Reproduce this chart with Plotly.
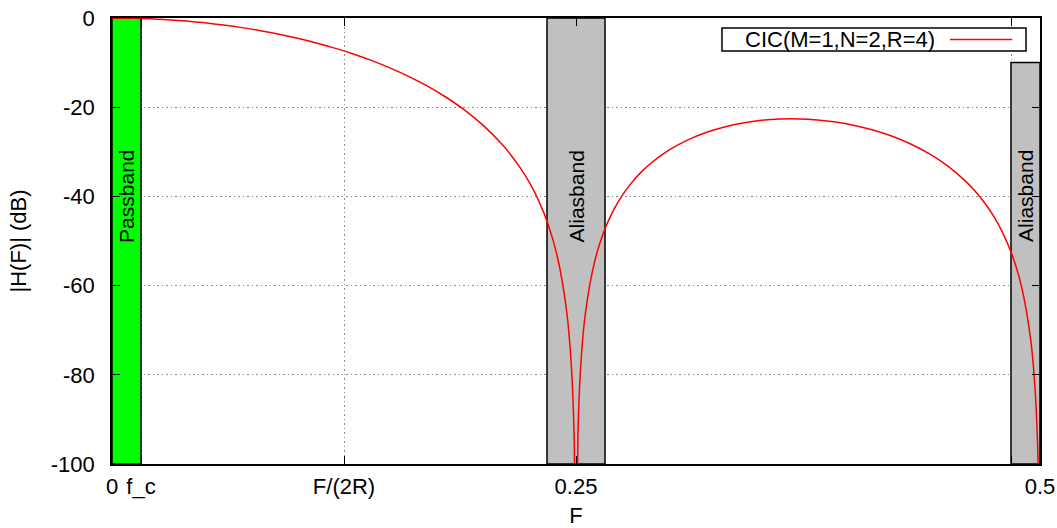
import plotly.graph_objects as go

# ---------------- data ----------------
f_c = 1 / 64

freq = [0.0, 0.01, 0.02, 0.03, 0.04, 0.05, 0.06, 0.07, 0.08, 0.09, 0.10,
        0.11, 0.12, 0.13, 0.14, 0.15, 0.16, 0.17, 0.18, 0.19, 0.20,
        0.21, 0.215, 0.22, 0.225, 0.23, 0.235, 0.24, 0.245, 0.2475, 0.249,
        0.25, 0.251, 0.2525, 0.255, 0.26, 0.265, 0.27, 0.275, 0.28, 0.285,
        0.29, 0.30, 0.31, 0.32, 0.33, 0.34, 0.35, 0.36, 0.37, 0.38, 0.39,
        0.40, 0.41, 0.42, 0.43, 0.44, 0.45, 0.46, 0.465, 0.47, 0.475,
        0.48, 0.485, 0.49, 0.495, 0.4975, 0.499, 0.5]

h_db = [0.0, -0.04, -0.17, -0.39, -0.69, -1.09, -1.58, -2.16, -2.85, -3.64, -4.55,
        -5.59, -6.76, -8.07, -9.56, -11.24, -13.13, -15.29, -17.77, -20.66, -24.08,
        -28.27, -30.76, -33.62, -36.99, -41.07, -46.30, -53.58, -65.87, -78.04, -94.04,
        -150.0, -94.14, -78.32, -66.42, -54.67, -47.94, -43.26, -39.72, -36.91, -34.61,
        -32.68, -29.63, -27.37, -25.67, -24.42, -23.53, -22.95, -22.66, -22.63, -22.85, -23.33,
        -24.08, -25.12, -26.47, -28.19, -30.36, -33.10, -36.63, -38.81, -41.37, -44.43,
        -48.22, -53.15, -60.15, -72.16, -84.20, -100.1, -150.0]

series_name = "CIC(M=1,N=2,R=4)"

band_names = ["Passband", "Aliasband", "Aliasband"]
band_lo = [0.0, 0.25 - f_c, 0.5 - f_c]
band_hi = [f_c, 0.25 + f_c, 0.5]
band_top = [0, 0, -10]
band_bottom = -100
band_colors = ["#00ff00", "#c0c0c0", "#c0c0c0"]
band_label_y = -40

x_tick_vals = [0, f_c, 0.125, 0.25, 0.5 - f_c, 0.5]
x_tick_text = ["0", "f_c", "F/(2R)", "0.25", "", "0.5"]
y_tick_vals = [0, -20, -40, -60, -80, -100]
y_tick_text = ["0", "-20", "-40", "-60", "-80", "-100"]

FONT = "Liberation Sans, Arial, Helvetica, sans-serif"
FS = 22

fig = go.Figure()

# bands
for lo, hi, top, col in zip(band_lo, band_hi, band_top, band_colors):
    fig.add_trace(go.Scatter(
        x=[lo, hi, hi, lo, lo], y=[band_bottom, band_bottom, top, top, band_bottom],
        mode="lines", fill="toself", fillcolor=col,
        line=dict(color="black", width=1.5), hoverinfo="skip", showlegend=False))

# curve
fig.add_trace(go.Scatter(x=freq, y=h_db, mode="lines", name=series_name,
                         line=dict(color="#ff0000", width=1.5, shape="spline", smoothing=0.8),
                         showlegend=False))

# band labels
for name, lo, hi in zip(band_names, band_lo, band_hi):
    fig.add_annotation(x=(lo + hi) / 2, y=band_label_y, text=name, textangle=-90,
                       showarrow=False, xanchor="center", yanchor="middle",
                       font=dict(family=FONT, size=FS - 1, color="black"))

# custom gnuplot-style legend (text left, sample right)
lg_x0, lg_x1, lg_y0, lg_y1 = 0.6573, 0.9849, 0.926, 0.9776
fig.add_shape(type="rect", xref="paper", yref="paper", x0=lg_x0, x1=lg_x1, y0=lg_y0, y1=lg_y1,
              line=dict(color="black", width=1.5), fillcolor="white", layer="above")
fig.add_shape(type="line", xref="paper", yref="paper", x0=0.903, x1=0.970,
              y0=(lg_y0 + lg_y1) / 2, y1=(lg_y0 + lg_y1) / 2,
              line=dict(color="#ff0000", width=1.5), layer="above")
fig.add_annotation(xref="paper", yref="paper", x=0.680, y=(lg_y0 + lg_y1) / 2,
                   text=series_name, showarrow=False, xanchor="left", yanchor="middle",
                   font=dict(family=FONT, size=FS, color="black"))

axis_common = dict(showline=True, linecolor="black", linewidth=1.5, mirror="ticks",
                   ticks="inside", ticklen=8, tickwidth=1, tickcolor="black",
                   showgrid=True, gridcolor="#8a8a8a", griddash="1.5px,3px", gridwidth=1,
                   zeroline=False, automargin=False, ticklabeloverflow="allow",
                   tickfont=dict(family=FONT, size=FS, color="black"))

fig.update_xaxes(range=[0, 0.5], tickmode="array", tickvals=x_tick_vals, ticktext=x_tick_text,
                 title=dict(text="F", font=dict(family=FONT, size=FS, color="black"), standoff=10),
                 ticklabelstandoff=2, **axis_common)
fig.update_yaxes(range=[-100, 0], tickmode="array", tickvals=y_tick_vals, ticktext=y_tick_text,
                 title=dict(text="|H(F)| (dB)", font=dict(family=FONT, size=FS, color="black"), standoff=18),
                 ticklabelstandoff=11, **axis_common)

fig.update_layout(width=1057, height=528, margin=dict(l=112, r=17, t=18, b=64, autoexpand=False),
                  paper_bgcolor="white", plot_bgcolor="white",
                  font=dict(family=FONT, size=FS, color="black"), showlegend=False)

fig.write_html("out.html", config={"displayModeBar": False},
               post_script="document.body.style.margin='0px';")
